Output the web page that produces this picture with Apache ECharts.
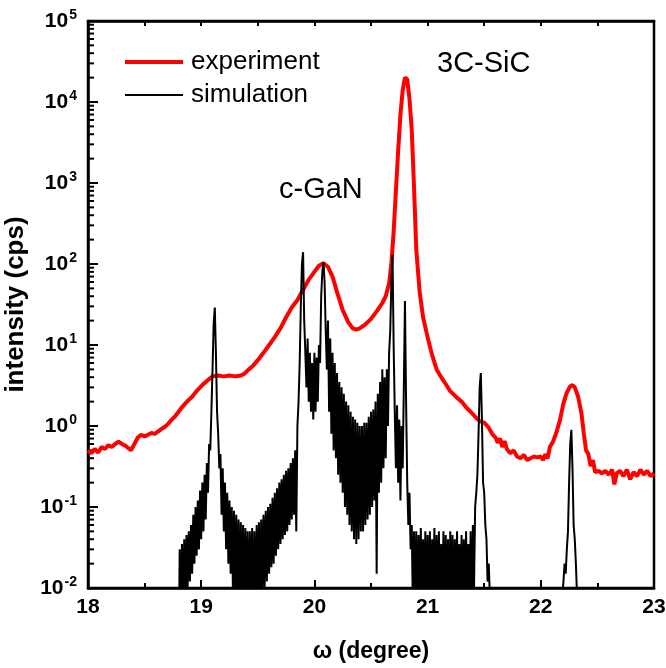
<!DOCTYPE html>
<html>
<head>
<meta charset="utf-8">
<script src="https://cdn.jsdelivr.net/npm/echarts@6/dist/echarts.min.js"></script>
<style>
  html, body { margin: 0; padding: 0; background: #fff; }
  #chart { width: 666px; height: 668px; }
</style>
</head>
<body>
<div id="chart"></div>
<script>
// measured curve (red)
const expX = [18.00,18.03,18.06,18.09,18.12,18.15,18.18,18.21,18.24,18.27,18.30,18.33,18.36,18.38,18.41,18.44,18.47,18.50,18.53,18.56,
  18.59,18.62,18.65,18.68,18.71,18.74,18.77,18.80,18.83,18.86,18.89,18.92,18.95,18.98,19.01,19.04,19.07,19.10,19.15,19.20,
  19.25,19.30,19.35,19.38,19.42,19.46,19.50,19.55,19.60,19.65,19.70,19.75,19.80,19.85,19.90,19.95,20.00,20.04,20.08,20.12,
  20.16,20.20,20.25,20.30,20.34,20.37,20.40,20.45,20.50,20.55,20.60,20.63,20.66,20.68,20.70,20.72,20.74,20.76,20.78,20.80,
  20.82,20.84,20.86,20.88,20.90,20.93,20.96,21.00,21.04,21.08,21.12,21.16,21.20,21.25,21.30,21.34,21.38,21.42,21.46,21.50,
  21.54,21.57,21.60,21.62,21.64,21.66,21.68,21.70,21.73,21.76,21.79,21.82,21.85,21.88,21.91,21.94,21.97,22.00,22.02,22.04,
  22.06,22.08,22.11,22.14,22.17,22.20,22.23,22.26,22.28,22.30,22.33,22.36,22.38,22.40,22.42,22.44,22.46,22.48,22.51,22.54,
  22.57,22.60,22.63,22.65,22.67,22.70,22.73,22.76,22.79,22.82,22.85,22.88,22.91,22.94,22.97,23.00];
const expY = [0.50,0.46,0.52,0.47,0.55,0.52,0.58,0.55,0.60,0.64,0.60,0.57,0.53,0.50,0.60,0.72,0.78,0.74,0.78,0.82,
  0.80,0.86,0.92,0.98,1.07,1.2,1.32,1.5,1.7,1.9,2.1,2.3,2.6,2.9,3.2,3.5,3.8,4.1,4.2,4.1,
  4.2,4.1,4.2,4.4,5.0,5.6,6.5,8,10,12.5,16,22,29,36,48,64,80,95,102,92,
  70,45,27,19,16,15.5,16,18,21,26,33,40,58,100,250,800,2500,7000,14000,20000,
  19000,11000,4500,900,150,45,22,12.5,7.5,5,4.0,3.3,2.7,2.3,2.0,1.7,1.5,1.3,1.15,1.1,
  0.95,0.8,0.72,0.62,0.70,0.55,0.65,0.52,0.46,0.50,0.42,0.40,0.44,0.38,0.40,0.42,0.41,0.42,0.38,0.45,
  0.40,0.55,0.65,0.85,1.2,1.9,2.6,3.1,3.2,3.0,2.3,1.4,0.8,0.50,0.45,0.32,0.38,0.27,0.28,0.26,
  0.28,0.25,0.29,0.19,0.26,0.28,0.24,0.29,0.22,0.27,0.24,0.29,0.25,0.28,0.24,0.26];

// simulated curve (black), sampled every 0.01 degree
const simStep = 0.01;
const simStartA = 18.80;
const simYA = [
  0.001,0.03,0.004,0.035,0.006,0.04,0.008,0.045,0.01,0.05,        // 18.80
  0.012,0.06,0.015,0.08,0.02,0.1,0.025,0.12,0.03,0.16,           // 18.90
  0.04,0.2,0.05,0.25,0.07,0.35,0.15,0.6,0.5,1.5,                 // 19.00
  5,18,29,8,1.5,0.8,0.3,0.45,0.08,0.3,                           // 19.10
  0.05,0.2,0.03,0.15,0.02,0.12,0.015,0.1,0.01,0.09,              // 19.20
  0.008,0.08,0.006,0.07,0.005,0.065,0.004,0.06,0.004,0.055,      // 19.30
  0.003,0.05,0.003,0.05,0.004,0.055,0.003,0.05,0.004,0.06,       // 19.40
  0.005,0.065,0.006,0.07,0.008,0.08,0.01,0.09,0.012,0.1,         // 19.50
  0.015,0.11,0.018,0.13,0.02,0.15,0.025,0.17,0.03,0.2,           // 19.60
  0.035,0.22,0.04,0.25,0.045,0.28,0.05,0.3,0.06,0.35,            // 19.70
  0.07,0.4,0.08,0.5,0.05,1.0,2,6,30,100,                         // 19.80
  140,20,8,3,12,2,8,1.5,6,1.2,                                   // 19.90
  8,1.5,7,2,10,6,40,80,105,60,                                   // 20.00
  15,5,20,1.5,12,0.8,8,0.5,6,0.4,                                // 20.10
  4.5,0.25,3.5,0.2,3,0.15,2.5,0.1,2,0.08,                        // 20.20
  1.8,0.06,1.5,0.05,1.3,0.04,1.2,0.035,1.1,0.04,                 // 20.30
  1.0,0.05,1.0,0.05,1.1,0.06,1.1,0.07,1.3,0.08,                  // 20.40
  1.5,0.1,1.6,0.12,2,0.015,2.5,0.15,3.5,0.2,                     // 20.50
  5,0.3,4,0.4,5,1,8,15,60,130,                                   // 20.60
  10,1.5,0.3,1.8,0.2,1.2,0.12,1.0,0.3,3,                         // 20.70
  35,2,0.2,0.06,0.15,0.03,0.06,0.005,0.05,0.004,                 // 20.80
  0.05,0.003,0.045,0.005,0.055,0.004,0.04,0.006,0.05,0.003,      // 20.90
  0.045,0.005,0.05,0.004,0.04,0.006,0.055,0.003,0.045,0.005,     // 21.00
  0.05,0.004,0.035,0.006,0.05,0.003,0.045,0.005,0.04,0.004,      // 21.10
  0.05,0.006,0.045,0.003,0.04,0.005,0.05,0.004,0.035,0.006,      // 21.20
  0.045,0.003,0.04,0.005,0.05,0.004,0.035,0.006,0.05,0.005,      // 21.30
  0.06,0.01,0.1,0.15,0.25,0.8,3,4.5,1.2,0.2,                     // 21.40
  0.15,0.06,0.04,0.012,0.02,0.008,0.005,0.001,0.001,0.001,       // 21.50
  0.001                                                          // 21.60
];
const simStartB = 22.17;
const simYB = [0.001,0.005,0.008,0.012,0.02,0.015,0.03,0.05,0.2,0.6,0.9,0.3,0.06,0.04,0.02,0.008,0.001];

// axis ticks
const xMin = 18, xMax = 23;
const yMin = 0.01, yMax = 100000;
const minorMult = [2, 3, 4, 5, 6, 7, 8, 9];
const decades = [0.01, 0.1, 1, 10, 100, 1000, 10000];

const expData = expX.map((x, i) => [x, expY[i]]);
const simData = simYA.map((v, i) => [+(simStartA + i * simStep).toFixed(2), v])
  .concat(simYB.map((v, i) => [+(simStartB + i * simStep).toFixed(2), v]));
const minorVals = [];
decades.forEach(d => minorMult.forEach(m => minorVals.push([xMin, d * m])));

const chart = echarts.init(document.getElementById('chart'));
const font = '"Liberation Sans", Arial, sans-serif';

const option = {
  animation: false,
  backgroundColor: '#fff',
  textStyle: { fontFamily: font, color: '#000' },
  grid: {
    left: 88, right: 12, top: 21, bottom: 80,
    containLabel: false, outerBoundsMode: 'none',
    show: true, borderColor: '#000', borderWidth: 2.5
  },
  legend: {
    data: [
      { name: 'experiment', lineStyle: { width: 4 } },
      { name: 'simulation', lineStyle: { width: 2 } }
    ],
    orient: 'vertical',
    left: 123, top: 47, padding: 0,
    itemWidth: 58, itemHeight: 14, itemGap: 3,
    itemStyle: { opacity: 0 },
    textStyle: { fontFamily: font, fontSize: 26, color: '#000', lineHeight: 30, padding: [0, 0, 0, 3] }
  },
  xAxis: [{
    type: 'value', min: xMin, max: xMax, interval: 1,
    name: 'ω (degree)', nameLocation: 'middle', nameGap: 52,
    nameTextStyle: { fontFamily: font, fontSize: 23, fontWeight: 'bold', color: '#000' },
    axisLine: { lineStyle: { color: '#000', width: 2.5 } },
    axisTick: { inside: true, length: 8, lineStyle: { color: '#000', width: 2 } },
    minorTick: { show: true, splitNumber: 2, length: 5, lineStyle: { color: '#000', width: 2 } },
    splitLine: { show: false },
    axisLabel: { margin: 9, fontFamily: font, fontSize: 21, fontWeight: 'bold', color: '#000' }
  }, {
    type: 'value', min: xMin, max: xMax, interval: 1, position: 'top',
    axisLine: { lineStyle: { color: '#000', width: 2.5 } },
    axisTick: { inside: true, length: 5, lineStyle: { color: '#000', width: 2 } },
    minorTick: { show: true, splitNumber: 2, length: 5, lineStyle: { color: '#000', width: 2 } },
    splitLine: { show: false },
    axisLabel: { show: false }
  }],
  yAxis: {
    type: 'log', logBase: 10, min: yMin, max: yMax,
    name: 'intensity (cps)', nameLocation: 'middle', nameGap: 44,
    nameTextStyle: { fontFamily: font, fontSize: 26, fontWeight: 'bold', color: '#000' },
    axisLine: { lineStyle: { color: '#000', width: 2.5 } },
    axisTick: { inside: true, length: 10, lineStyle: { color: '#000', width: 2 } },
    splitLine: { show: false },
    axisLabel: {
      margin: 11,
      formatter: v => '{b|10}{s|' + Math.round(Math.log10(v)) + '}',
      rich: {
        b: { fontFamily: font, fontSize: 21, fontWeight: 'bold', color: '#000' },
        s: { fontFamily: font, fontSize: 14, fontWeight: 'bold', color: '#000', verticalAlign: 'top', padding: [0, 0, 12, 1] }
      }
    }
  },
  graphic: [
    { type: 'text', left: 279, top: 175, style: { text: 'c-GaN', fontFamily: font, fontSize: 29, fill: '#000' } },
    { type: 'text', left: 437, top: 49, style: { text: '3C-SiC', fontFamily: font, fontSize: 29, fill: '#000' } }
  ],
  series: [
    {
      name: 'experiment', type: 'line', data: expData,
      showSymbol: false, symbol: 'none', smooth: false, clip: true,
      lineStyle: { color: '#ff0000', width: 4 }, itemStyle: { color: '#ff0000' }
    },
    {
      name: 'simulation', type: 'line', data: simData,
      showSymbol: false, symbol: 'none', clip: true,
      lineStyle: { color: '#000', width: 2 }, itemStyle: { color: '#000' }
    },
    {
      // log minor ticks on the left axis
      name: 'minorTicks', type: 'custom', silent: true, data: minorVals,
      renderItem: (params, api) => {
        const p = api.coord([api.value(0), api.value(1)]);
        return { type: 'line', shape: { x1: p[0], y1: p[1], x2: p[0] + 6, y2: p[1] }, style: { stroke: '#000', lineWidth: 2 } };
      }
    }
  ]
};
chart.setOption(option);
</script>
</body>
</html>
